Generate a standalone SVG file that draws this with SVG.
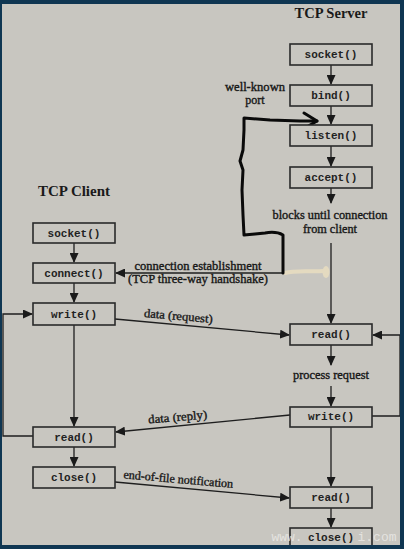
<svg xmlns="http://www.w3.org/2000/svg" width="404" height="549" viewBox="0 0 404 549">
<defs>
<marker id="ah" markerUnits="userSpaceOnUse" markerWidth="10" markerHeight="9" refX="9" refY="4.5" orient="auto">
<path d="M0,0 L10,4.5 L0,9 Z" fill="#1a1a1a"/>
</marker>
<style>
.box{fill:#c8c6c0;stroke:#2a2a2a;stroke-width:1.6}
.bt{font-family:"Liberation Mono",monospace;font-weight:bold;font-size:11px;fill:#222;text-anchor:middle}
.lbl{font-family:"Liberation Serif",serif;font-size:12px;fill:#161616;stroke:#161616;stroke-width:0.35;text-anchor:middle}
.ttl{font-family:"Liberation Serif",serif;font-weight:bold;font-size:14px;fill:#1a1a1a;text-anchor:middle}
.ln{stroke:#1e1e1e;stroke-width:1.3;fill:none}
</style>
</defs>
<rect x="0" y="0" width="404" height="549" fill="#c8c6c0"/>
<text class="ttl" x="331" y="18" textLength="73" lengthAdjust="spacingAndGlyphs">TCP Server</text>
<text class="ttl" x="74" y="196" textLength="72" lengthAdjust="spacingAndGlyphs">TCP Client</text>
<g id="connectors">
<path class="ln" d="M331,65 V84" marker-end="url(#ah)"/>
<path class="ln" d="M331,106 V124" marker-end="url(#ah)"/>
<path class="ln" d="M331,146 V166" marker-end="url(#ah)"/>
<path class="ln" d="M331,188 V203" marker-end="url(#ah)"/>
<path class="ln" d="M331,243 V323" marker-end="url(#ah)"/>
<path class="ln" d="M331,345 V365" marker-end="url(#ah)"/>
<path class="ln" d="M331,386 V406" marker-end="url(#ah)"/>
<path class="ln" d="M331,427 V486" marker-end="url(#ah)"/>
<path class="ln" d="M331,508 V527" marker-end="url(#ah)"/>
<path class="ln" d="M372,416 H400 V335 H373" marker-end="url(#ah)"/>
<path class="ln" d="M74,243 V262" marker-end="url(#ah)"/>
<path class="ln" d="M74,283 V302" marker-end="url(#ah)"/>
<path class="ln" d="M74,325 V426" marker-end="url(#ah)"/>
<path class="ln" d="M74,447 V466" marker-end="url(#ah)"/>
<path class="ln" d="M33,436 H3 V314 H32" marker-end="url(#ah)"/>
<path class="ln" d="M283,273 H116" marker-end="url(#ah)"/>
<path class="ln" d="M115,319 L289,335" marker-end="url(#ah)"/>
<path class="ln" d="M290,415 L116,432" marker-end="url(#ah)"/>
<path class="ln" d="M115,482 L289,498" marker-end="url(#ah)"/>
<path d="M285,273 C295,270 310,272 324,271" stroke="#e4dac0" stroke-width="4" fill="none" stroke-linecap="round"/>
<ellipse cx="326" cy="272" rx="3.5" ry="6" fill="#e4dac0"/>
<path d="M283,273 L283,250 L283,235 Q276,231 265,233 L255,234 L244,235 L243,215 L242,190 L243,170 L240,161 L243,150 L244,130 L244,118 L270,120 L300,121 L317,121" stroke="#0a0a0a" stroke-width="3" fill="none" stroke-linejoin="round" stroke-linecap="round"/>
<path d="M304,113 L317,121 L305,128" stroke="#0a0a0a" stroke-width="3" fill="none" stroke-linejoin="round" stroke-linecap="round"/>
</g>
<g id="s_socket"><rect class="box" x="290" y="44" width="82" height="21"/><text class="bt" x="331" y="58">socket()</text></g>
<g id="s_bind"><rect class="box" x="290" y="85" width="82" height="21"/><text class="bt" x="331" y="99">bind()</text></g>
<g id="s_listen"><rect class="box" x="290" y="125" width="82" height="21"/><text class="bt" x="331" y="139">listen()</text></g>
<g id="s_accept"><rect class="box" x="290" y="167" width="82" height="21"/><text class="bt" x="331" y="181">accept()</text></g>
<g id="s_read"><rect class="box" x="290" y="324" width="82" height="21"/><text class="bt" x="331" y="338">read()</text></g>
<g id="s_write"><rect class="box" x="290" y="407" width="82" height="20"/><text class="bt" x="331" y="420">write()</text></g>
<g id="s_read2"><rect class="box" x="290" y="487" width="82" height="21"/><text class="bt" x="331" y="501">read()</text></g>
<g id="s_close"><rect class="box" x="290" y="528" width="82" height="30"/><text class="bt" x="331" y="541">close()</text></g>
<g id="c_socket"><rect class="box" x="33" y="223" width="82" height="20"/><text class="bt" x="74" y="237">socket()</text></g>
<g id="c_connect"><rect class="box" x="33" y="263" width="82" height="20"/><text class="bt" x="74" y="277">connect()</text></g>
<g id="c_write"><rect class="box" x="33" y="303" width="82" height="22"/><text class="bt" x="74" y="318">write()</text></g>
<g id="c_read"><rect class="box" x="33" y="427" width="82" height="20"/><text class="bt" x="74" y="441">read()</text></g>
<g id="c_close"><rect class="box" x="33" y="467" width="82" height="21"/><text class="bt" x="74" y="481">close()</text></g>
<g id="labels">
<text class="lbl" x="255" y="91" textLength="60" lengthAdjust="spacingAndGlyphs">well-known</text>
<text class="lbl" x="255" y="104">port</text>
<text class="lbl" x="330" y="219" textLength="115" lengthAdjust="spacingAndGlyphs">blocks until connection</text>
<text class="lbl" x="330" y="233" textLength="54" lengthAdjust="spacingAndGlyphs">from client</text>
<text class="lbl" x="198" y="270" textLength="127" lengthAdjust="spacingAndGlyphs">connection establishment</text>
<text class="lbl" x="198" y="283" textLength="140" lengthAdjust="spacingAndGlyphs">(TCP three-way handshake)</text>
<text class="lbl" x="178" y="320" transform="rotate(5 178 320)" textLength="69" lengthAdjust="spacingAndGlyphs">data (request)</text>
<text class="lbl" x="331" y="379" textLength="76" lengthAdjust="spacingAndGlyphs">process request</text>
<text class="lbl" x="178" y="421" transform="rotate(-5 178 421)" textLength="59" lengthAdjust="spacingAndGlyphs">data (reply)</text>
<text class="lbl" x="178" y="483" transform="rotate(5 178 483)" textLength="110" lengthAdjust="spacingAndGlyphs">end-of-file notification</text>
<text x="287" y="541" font-family="Liberation Mono,monospace" font-size="13" fill="#ecebe8" fill-opacity="0.8" text-anchor="middle">www.</text>
<text x="377" y="541" font-family="Liberation Mono,monospace" font-size="13" fill="#ecebe8" fill-opacity="0.8" text-anchor="middle">i.com</text>
</g>
<path d="M0,0 H404 V549 H0 Z M2,4 V545 H400 V4 Z" fill="#0f3652" fill-rule="evenodd"/>
</svg>
